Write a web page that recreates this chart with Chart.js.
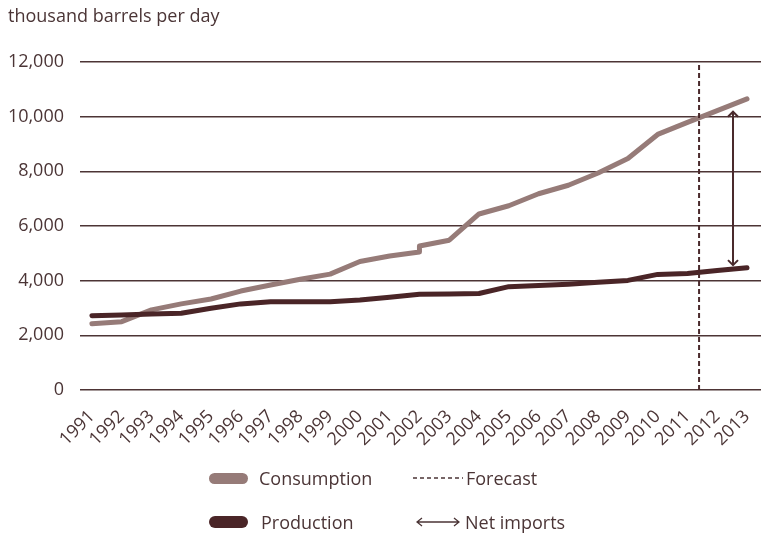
<!DOCTYPE html>
<html>
<head>
<meta charset="utf-8">
<script src="https://cdn.jsdelivr.net/npm/chart.js@4"></script>
<style>
  html, body { margin: 0; padding: 0; background: #fff; }
  #wrap { position: relative; width: 761px; height: 535px; font-family: "Open Sans", Lato, sans-serif; color: #4b3536; }
  #chart { position: absolute; left: 0; top: 0; }
  .legend-item { position: absolute; font-size: 18px; line-height: 20px; white-space: nowrap; }
  .swatch { position: absolute; width: 39px; border-radius: 6px; }
</style>
</head>
<body>
<div id="wrap">
  <canvas id="chart" width="761" height="535"></canvas>
  <div class="swatch" style="left:209px; top:473px; height:11px; background:#967b78;"></div>
  <div class="legend-item" style="left:259px; top:468px;">Consumption</div>
  <svg style="position:absolute; left:412px; top:472px;" width="52" height="12">
    <line x1="1" y1="6" x2="51" y2="6" stroke="#4b3536" stroke-width="1.5" stroke-dasharray="4 3"></line>
  </svg>
  <div class="legend-item" style="left:466px; top:468px;">Forecast</div>
  <div class="swatch" style="left:209px; top:516px; height:12px; background:#4a2527;"></div>
  <div class="legend-item" style="left:261px; top:512px;">Production</div>
  <svg style="position:absolute; left:416px; top:516px;" width="44" height="12">
    <path d="M1 6 H43 M6 2 L1 6 L6 10 M38 2 L43 6 L38 10" stroke="#4b3536" stroke-width="1.3" fill="none"></path>
  </svg>
  <div class="legend-item" style="left:465px; top:512px;">Net imports</div>
</div>
<script>
  'use strict';

  // Data (thousand barrels per day)
  const years = [1991, 1992, 1993, 1994, 1995, 1996, 1997, 1998, 1999, 2000, 2001, 2002,
                 2003, 2004, 2005, 2006, 2007, 2008, 2009, 2010, 2011, 2012, 2013];
  // 2002 has two values: the series is rebased that year
  const consumption = [2420, 2500, 2930, 3150, 3330, 3620, 3840, 4050, 4240, 4700, 4900, [5050, 5270],
                       5480, 6440, 6740, 7180, 7490, 7940, 8470, 9350, 9790, 10220, 10650];
  const production = [2720, 2740, 2780, 2810, 2990, 3150, 3230, 3230, 3230, 3290, 3390, 3500,
                      3510, 3530, 3780, 3820, 3870, 3940, 4010, 4230, 4260, 4370, 4470];
  const yTicks = [0, 2000, 4000, 6000, 8000, 10000, 12000];

  const forecastYear = 2011.39;
  const netImportsYear = 2012.53;
  const netImportsRange = [4570, 10180];

  const xMin = 1990.6;
  const xMax = 2013.47;

  const fontFamily = '"Open Sans", Lato, sans-serif';
  const textColor = '#4b3536';
  const gridColor = '#4d3435';
  const consumptionColor = '#967b78';
  const productionColor = '#4a2527';

  function toPoints(values) {
    const pts = [];
    values.forEach((v, i) => {
      if (Array.isArray(v)) {
        v.forEach(val => pts.push({ x: years[i], y: val }));
      } else {
        pts.push({ x: years[i], y: v });
      }
    });
    return pts;
  }

  // double-headed arrow for net imports, placed through the chart scales
  const netImportsArrow = {
    id: 'netImportsArrow',
    afterDatasetsDraw(chart) {
      const { ctx, scales } = chart;
      const x = scales.x.getPixelForValue(netImportsYear);
      const yBottom = scales.y.getPixelForValue(netImportsRange[0]);
      const yTop = scales.y.getPixelForValue(netImportsRange[1]);
      const head = 5;
      ctx.save();
      ctx.strokeStyle = '#4a2a2c';
      ctx.lineWidth = 2;
      ctx.beginPath();
      ctx.moveTo(x, yTop);
      ctx.lineTo(x, yBottom);
      ctx.moveTo(x - head, yTop + head);
      ctx.lineTo(x, yTop);
      ctx.lineTo(x + head, yTop + head);
      ctx.moveTo(x - head, yBottom - head);
      ctx.lineTo(x, yBottom);
      ctx.lineTo(x + head, yBottom - head);
      ctx.stroke();
      ctx.restore();
    }
  };

  const ctx = document.getElementById('chart').getContext('2d');
  new Chart(ctx, {
    type: 'line',
    data: {
      datasets: [
        {
          label: 'Forecast',
          data: [{ x: forecastYear, y: 0 }, { x: forecastYear, y: 12000 }],
          borderColor: '#4a2a2c',
          borderWidth: 2,
          borderDash: [5, 3],
          pointRadius: 0,
          order: 0
        },
        {
          label: 'Consumption',
          data: toPoints(consumption),
          borderColor: consumptionColor,
          borderWidth: 5,
          borderCapStyle: 'round',
          borderJoinStyle: 'round',
          pointRadius: 0,
          tension: 0,
          order: 2
        },
        {
          label: 'Production',
          data: toPoints(production),
          borderColor: productionColor,
          borderWidth: 5,
          borderCapStyle: 'round',
          borderJoinStyle: 'round',
          pointRadius: 0,
          tension: 0,
          order: 1
        }
      ]
    },
    options: {
      responsive: false,
      animation: false,
      layout: { padding: { left: 8, right: 0, top: 0, bottom: 0 } },
      plugins: {
        legend: { display: false },
        tooltip: { enabled: false },
        title: {
          display: true,
          text: 'thousand barrels per day',
          align: 'start',
          color: textColor,
          font: { family: fontFamily, size: 18, weight: 'normal' },
          padding: { top: 6, bottom: 34.4 }
        }
      },
      scales: {
        x: {
          type: 'linear',
          min: xMin,
          max: xMax,
          grid: { display: false, drawTicks: false },
          border: { display: false },
          afterBuildTicks: axis => { axis.ticks = years.map(v => ({ value: v })); },
          afterFit: scale => {
            scale.height = 145;
            scale.paddingLeft = 0;
            scale.paddingRight = 0;
          },
          ticks: {
            autoSkip: false,
            minRotation: 45,
            maxRotation: 45,
            padding: 16,
            color: textColor,
            font: { family: fontFamily, size: 18 },
            callback: v => String(v)
          }
        },
        y: {
          min: 0,
          max: 12000,
          afterBuildTicks: axis => { axis.ticks = yTicks.map(v => ({ value: v })); },
          afterFit: scale => {
            scale.width = 72;
            scale.paddingTop = 0;
            scale.paddingBottom = 0;
          },
          grid: { color: gridColor, lineWidth: 1.5, drawTicks: false },
          border: { display: false },
          ticks: {
            padding: 16,
            color: textColor,
            font: { family: fontFamily, size: 18 },
            callback: v => v.toLocaleString('en-US')
          }
        }
      }
    },
    plugins: [netImportsArrow]
  });
</script>
</body>
</html>
